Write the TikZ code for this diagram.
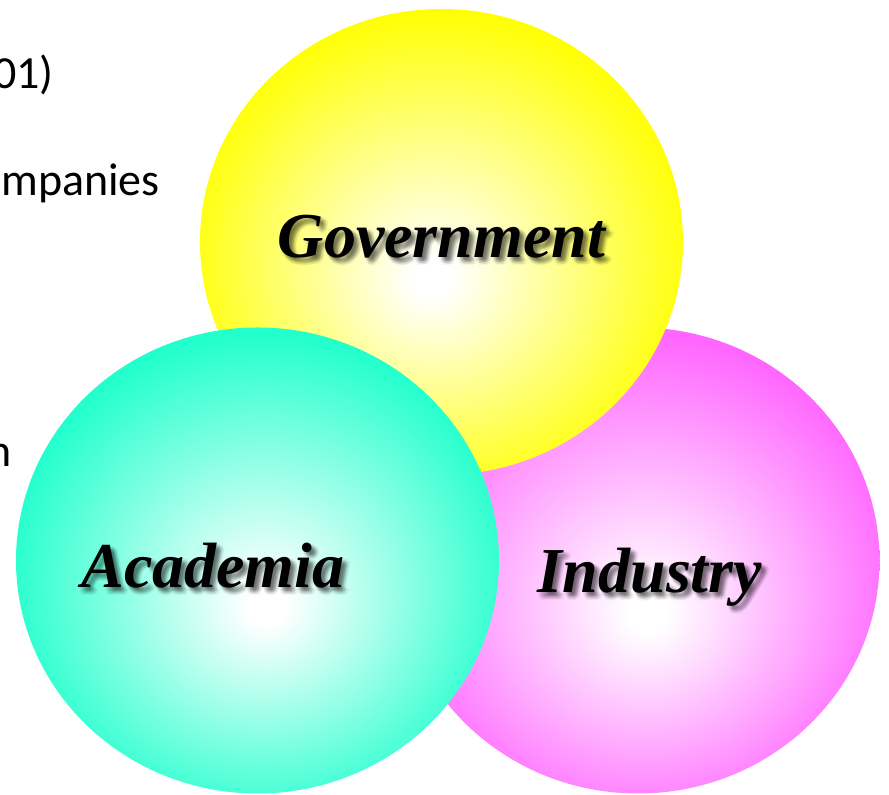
\documentclass[tikz,border=0pt]{standalone}
\usepackage{fontspec}
\newfontfamily\tagfont{Liberation Serif}
\newfontfamily\slidefont{Carlito}
\usetikzlibrary{shapes.geometric}

\definecolor{govyellow}{RGB}{255,255,0}
\definecolor{acadteal}{RGB}{32,255,204}
\definecolor{indpink}{RGB}{255,102,255}

% white glow in the middle, full colour towards the rim
\pgfdeclareradialshading{govglow}{\pgfpoint{-1bp}{-4bp}}{color(0bp)=(white); color(2bp)=(white); color(27bp)=(govyellow); color(50bp)=(govyellow)}
\pgfdeclareradialshading{acadglow}{\pgfpoint{1bp}{-5bp}}{color(0bp)=(white); color(2bp)=(white); color(27bp)=(acadteal); color(50bp)=(acadteal)}
\pgfdeclareradialshading{indglow}{\pgfpoint{1bp}{-6bp}}{color(0bp)=(white); color(2bp)=(white); color(27bp)=(indpink); color(50bp)=(indpink)}

\begin{document}
\begin{tikzpicture}[
    x=1bp, y=1bp,
    sphere/.style={
        ellipse,
        minimum width=483bp,
        minimum height=466bp,
        inner sep=0pt
    },
    govsphere/.style={sphere, path picture={\shade[shading=govglow] (path picture bounding box.south west) rectangle (path picture bounding box.north east);}},
    acadsphere/.style={sphere, path picture={\shade[shading=acadglow] (path picture bounding box.south west) rectangle (path picture bounding box.north east);}},
    indsphere/.style={sphere, path picture={\shade[shading=indglow] (path picture bounding box.south west) rectangle (path picture bounding box.north east);}},
    tagtext/.style={
        font=\tagfont\bfseries\itshape\fontsize{64bp}{70bp}\selectfont,
        anchor=base,
        inner sep=0pt
    },
    shadetext/.style={tagtext, text=black, opacity=0.04},
    slidetext/.style={
        font=\slidefont\fontsize{46bp}{50bp}\selectfont,
        anchor=base east,
        inner sep=0pt
    }
]
\useasboundingbox (0,0) rectangle (889,795);

% bits of the slide text sticking out on the left
\node[slidetext] (yearline) at (54,706) {01)};
\node[slidetext] (firmline) at (160,599) {mpanies};
\node[slidetext] (lastline) at (12,328) {n};

% the three spheres, back to front
\node[indsphere] (ind) at (638,234.5) {};
\node[govsphere] (gov) at (441.5,553) {};
\node[acadsphere] (acad) at (257.5,234.5) {};

\coordinate (gov-base) at ([shift={(0,-16)}]gov.center);
\coordinate (acad-base) at ([shift={(-44.5,-27.5)}]acad.center);
\coordinate (ind-base) at ([shift={(12,-32.5)}]ind.center);

% names with a soft drop shadow
\foreach \tag/\word in {gov/Government, acad/Academia, ind/Industry} {
    \foreach \sx/\sy [count=\k] in {4/-4,3/-3,5/-5,5/-3,3/-5,2/-4,6/-4,4/-2,4/-6,1/-3,7/-5,3/-1,5/-7,2/-6,6/-2,7/-7,1/-1,8/-4,4/-8} {
        \node[shadetext] (\tag-shade\k) at ([shift={(\sx,\sy)}]\tag-base) {\word};
    }
    \node[tagtext] (\tag-label) at (\tag-base) {\word};
}
\end{tikzpicture}
\end{document}
